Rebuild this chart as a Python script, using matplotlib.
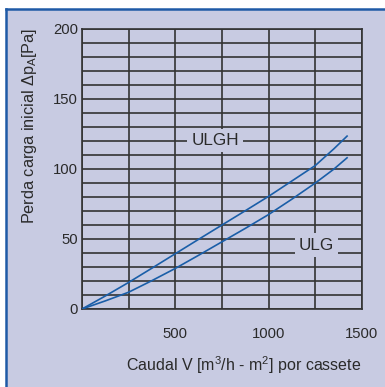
import numpy as np
import matplotlib
matplotlib.use("Agg")
import matplotlib.pyplot as plt
from matplotlib.patches import Rectangle
from matplotlib.lines import Line2D

plt.rcParams['font.family'] = ['Liberation Sans', 'DejaVu Sans']

# caudal values
caudal = [0, 125, 250, 375, 500, 625, 750, 875, 1000, 1125, 1250, 1350, 1420]
ulgh = [0, 9.3, 19, 29.2, 39.5, 49.8, 60, 70.2, 80.5, 91.5, 102.5, 114.5, 123.5]
ulg = [0, 5.8, 12, 20.3, 29, 38.4, 48, 57.6, 67.5, 78.5, 90, 100, 108]

xticks = [500, 1000, 1500]
yticks = [0, 50, 100, 150, 200]

bg = '#c8cbe2'
blue = '#1a5ea8'
dark = '#2a2a2a'

fig = plt.figure(figsize=(3.85, 3.87), dpi=100)
fig.patch.set_facecolor('white')

# panel background with blue border on top and left
fig.patches.append(Rectangle((6/385, 0), 1, (387-9)/387, transform=fig.transFigure,
                             facecolor=bg, edgecolor='none', zorder=-2))
fig.lines.append(Line2D([6/385, 6/385], [0, (387-9)/387], transform=fig.transFigure,
                        color='#1f5aa6', lw=1.8, zorder=-1))
fig.lines.append(Line2D([6/385, 1], [(387-9)/387, (387-9)/387], transform=fig.transFigure,
                        color='#1f5aa6', lw=1.8, zorder=-1))

ax = fig.add_axes([82/385, 1 - 309/387, 280/385, 280/387])
ax.set_zorder(1)
ax.set_facecolor(bg)
ax.set_xlim(0, 1500)
ax.set_ylim(0, 200)

ax.set_xticks(xticks)
ax.set_yticks(yticks)
ax.set_xticks(np.arange(0, 1501, 250), minor=True)
ax.set_yticks(np.arange(0, 201, 10), minor=True)
ax.grid(which='both', color='#333333', lw=1.2)
ax.tick_params(which='both', length=0, labelsize=10.7, colors=dark)
ax.tick_params(axis='x', pad=13)
ax.tick_params(axis='y', pad=3)
for s in ax.spines.values():
    s.set_color('#333333')
    s.set_linewidth(1.2)

ax.plot(caudal, ulgh, color=blue, lw=1.2, zorder=3)
ax.plot(caudal, ulg, color=blue, lw=1.2, zorder=3)

ax.text(714, 120.5, 'ULGH', ha='center', va='center', fontsize=12.3, color=dark, zorder=4,
        bbox=dict(facecolor=bg, edgecolor='none', pad=3))
ax.text(1255, 45.7, 'ULG', ha='center', va='center', fontsize=12.3, color=dark, zorder=4,
        bbox=dict(facecolor=bg, edgecolor='none', pad=3))

fig.text(30/385, 1 - 28/387, 'Perda carga inicial Δp$_\\mathregular{A}$[Pa]', rotation=90,
         ha='center', va='top', fontsize=11.7, color=dark)
fig.text(244/385, 1 - 365/387, 'Caudal V [m$^\\mathregular{3}$/h - m$^\\mathregular{2}$] por cassete',
         ha='center', va='center', fontsize=11.5, color=dark)

fig.savefig('out.png', dpi=100, facecolor=fig.get_facecolor())
